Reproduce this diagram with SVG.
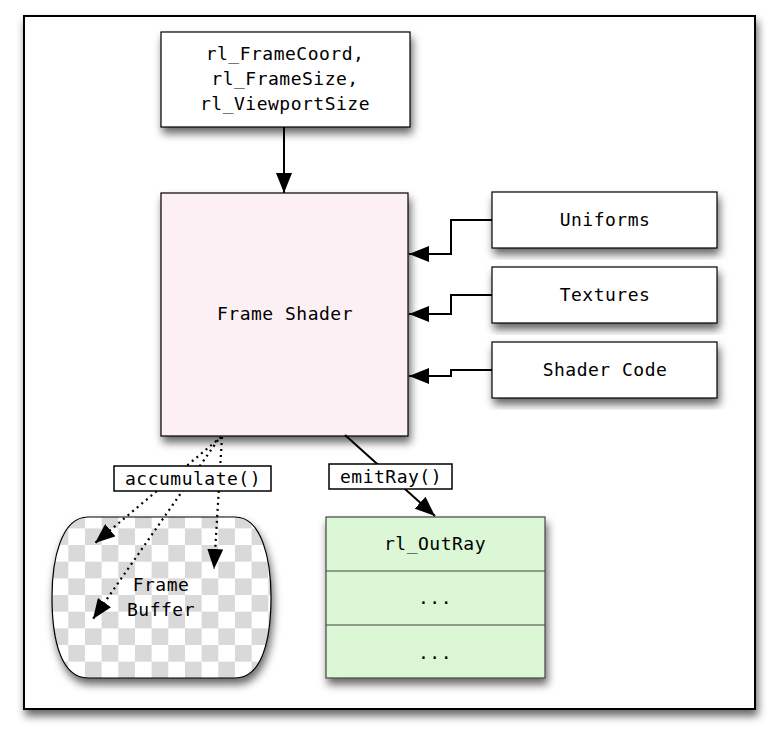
<svg xmlns="http://www.w3.org/2000/svg" width="778" height="740" viewBox="0 0 778 740">
<style>
text{font-family:"DejaVu Sans Mono","Liberation Mono",monospace;font-size:18px;letter-spacing:0.5px;fill:#000;text-anchor:middle}
.box{fill:#fff;stroke:#000;stroke-width:1.2}
.conn{fill:none;stroke:#000;stroke-width:2}
.dot{fill:none;stroke:#000;stroke-width:2.2;stroke-dasharray:2 4}
.lbl{fill:#fff;stroke:#000;stroke-width:1.5}
</style>
<defs>
<filter id="sh" x="-20%" y="-20%" width="140%" height="140%">
<feDropShadow dx="2" dy="6" stdDeviation="4" flood-color="#000" flood-opacity="0.6"/>
</filter>
<marker id="arr" markerUnits="userSpaceOnUse" markerWidth="20" markerHeight="16" refX="20" refY="8" orient="auto" viewBox="0 0 20 16">
<path d="M0,0 L20,8 L0,16 z" fill="#000"/>
</marker>
<pattern id="chk" patternUnits="userSpaceOnUse" x="68.3" y="511.7" width="33.33" height="33.33">
<rect width="33.33" height="33.33" fill="#fff"/>
<rect width="16.67" height="16.67" fill="#d9d9d9"/>
<rect x="16.67" y="16.67" width="16.67" height="16.67" fill="#d9d9d9"/>
</pattern>
</defs>
<rect width="778" height="740" fill="#fff"/>
<g id="frame"><rect x="24" y="16" width="731" height="693" fill="#fff" stroke="#000" stroke-width="2" filter="url(#sh)"/></g>

<g id="inputs">
<rect class="box" x="161" y="32" width="249" height="95" filter="url(#sh)"/>
<text x="285" y="60">rl_FrameCoord,</text>
<text x="285" y="85">rl_FrameSize,</text>
<text x="285" y="110">rl_ViewportSize</text>
</g>

<g id="frameShader">
<rect x="161" y="193" width="247" height="243" fill="#fcf0f5" stroke="#000" stroke-width="1.2" filter="url(#sh)"/>
<text x="285" y="320">Frame Shader</text>
</g>

<g id="uniforms">
<rect class="box" x="492" y="192" width="225" height="56" filter="url(#sh)"/>
<text x="605" y="226">Uniforms</text>
</g>
<g id="textures">
<rect class="box" x="492" y="267" width="225" height="56" filter="url(#sh)"/>
<text x="605" y="301">Textures</text>
</g>
<g id="shaderCode">
<rect class="box" x="492" y="342" width="225" height="56" filter="url(#sh)"/>
<text x="605" y="376">Shader Code</text>
</g>

<g id="frameBuffer">
<path d="M88,517 L235,517 C262,517 271,560 271,597 C271,640 262,678 235,678 L88,678 C61,678 52,640 52,597 C52,560 61,517 88,517 Z" fill="url(#chk)" stroke="#000" stroke-width="1.2" filter="url(#sh)"/>
<text x="161" y="591">Frame</text>
<text x="161" y="616">Buffer</text>
</g>

<g id="outRay">
<rect x="326" y="517" width="219" height="161" fill="#dcf7d5" stroke="#444" stroke-width="1.2" filter="url(#sh)"/>
<line x1="326" y1="571" x2="545" y2="571" stroke="#444" stroke-width="1.2"/>
<line x1="326" y1="625" x2="545" y2="625" stroke="#444" stroke-width="1.2"/>
<text x="435" y="550">rl_OutRay</text>
<text x="435" y="604">...</text>
<text x="435" y="659">...</text>
</g>

<g id="connectors">
<line class="conn" x1="284" y1="127" x2="284" y2="193" marker-end="url(#arr)"/>
<path class="conn" d="M492,220 H451 V254 H409" marker-end="url(#arr)"/>
<path class="conn" d="M492,295 H451 V314 H409" marker-end="url(#arr)"/>
<path class="conn" d="M492,370 H451 V376 H409" marker-end="url(#arr)"/>
<line class="conn" x1="345" y1="435" x2="435" y2="516" marker-end="url(#arr)"/>
<line class="dot" x1="221" y1="437" x2="95" y2="543" marker-end="url(#arr)"/>
<line class="dot" x1="218" y1="440" x2="93" y2="619" marker-end="url(#arr)"/>
<line class="dot" x1="222" y1="437" x2="214" y2="569" marker-end="url(#arr)"/>
</g>

<g id="labels">
<rect class="lbl" x="114" y="466" width="157" height="25"/>
<text x="193" y="485">accumulate()</text>
<rect class="lbl" x="329" y="464" width="123" height="25"/>
<text x="391" y="483">emitRay()</text>
</g>
</svg>
